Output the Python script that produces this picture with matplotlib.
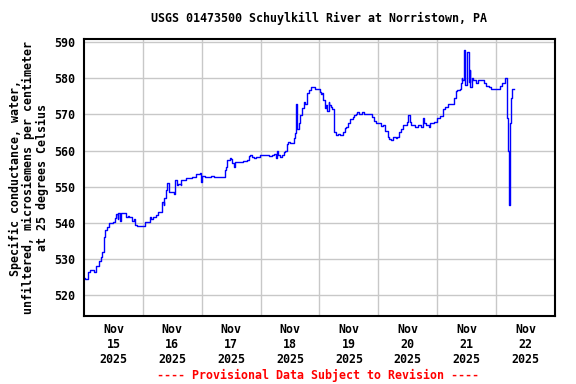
import matplotlib
matplotlib.use("Agg")
import matplotlib.pyplot as plt
import matplotlib.dates as mdates
from datetime import datetime, timedelta

# === DATA (hours after 2025-11-15 00:00, microsiemens/cm) ===
jam = [0, 0.5, 1.5, 2.25, 3, 4.25, 5, 6, 6.75, 7.5, 8, 8.25, 8.75, 9.25, 10, 11.25,
       12, 12.75, 13.25, 13.75, 14, 14.5, 15.25, 16, 17, 17.75, 18.5, 19.5, 20.25, 21,
       21.75, 23.5, 24.25, 25, 26, 26.75, 27.5, 28.25, 29.25, 30, 30.75, 31.75, 32,
       32.5, 32.75, 33.25, 33.75, 34, 34.5, 34.75, 35.75, 36.5, 37.25, 37.75, 38.5,
       39.5, 39.75, 40.75, 41.75, 43, 44, 44.75, 45.5, 46.5, 47.25, 47.5, 48, 49.25,
       50.5, 51.75, 53, 54.25, 55.25, 56.5, 57.5, 57.75, 58.5, 59.5, 59.75, 60.5, 61,
       61.75, 62.75, 64, 64.75, 65.5, 66.5, 67.25, 67.5, 68.5, 69.25, 70, 71, 71.75,
       73, 74, 75.5, 76.5, 77.5, 78.25, 78.75, 79, 80, 80.75, 81.5, 82, 82.75, 83.25,
       84, 84.75, 85.5, 86, 86.5, 86.75, 87, 87.75, 88.25, 89, 89.5, 90, 91, 91.75,
       92.5, 93.25, 94.25, 95.5, 96.25, 96.75, 97, 97.5, 98.25, 98.75, 99.25, 99.75,
       100, 100.5, 101.25, 101.75, 102, 102.75, 103.5, 104.25, 105, 105.75, 106.25,
       107, 107.75, 108.5, 109.5, 110.25, 110.75, 111.25, 112, 113.25, 113.5, 114.25,
       116, 117.5, 118.25, 119, 120.25, 121, 121.75, 122.75, 123.75, 124.5, 125.25,
       126, 127, 127.75, 128.5, 129.25, 130.25, 131, 131.75, 132.25, 132.75, 133.5,
       134.25, 135, 136, 136.75, 137.5, 138, 138.25, 138.75, 139.5, 140.5, 141.25,
       142, 142.75, 143.75, 144.5, 145.25, 146.25, 146.5, 147.25, 148.25, 149.5,
       150.25, 150.75, 151.5, 152.25, 153.25, 153.5, 154, 154.25, 154.75, 155.25,
       155.5, 156, 156.25, 156.75, 157.25, 157.5, 158, 158.75, 159.5, 160, 160.75,
       161.75, 162.5, 163.25, 164, 165, 165.75, 167, 168.25, 169, 169.75, 170.5,
       171.5, 171.75, 172.25, 172.5, 172.75, 173.25, 173.5, 173.75, 174.25, 174.5,
       175.25]
nilai = [524.8, 524.6, 526.5, 527, 527, 526.5, 528, 529.5, 530.5, 532, 534, 536, 538,
         539, 540, 540, 540.3, 541.5, 542.5, 541, 542.7, 540.5, 542.8, 542.8, 541.7,
         542, 541.7, 540.5, 541, 539.4, 539.1, 539.1, 539.1, 540.3, 540.3, 541.7,
         541.2, 541.7, 542.2, 543, 543, 544.5, 545.8, 545, 547, 549, 550, 551, 549.5,
         548.5, 548.5, 548, 551.8, 550.5, 550.8, 550.5, 552, 552, 552.3, 552.4, 552.8,
         552.8, 553.5, 553.5, 553.7, 551.3, 553, 552.8, 552.6, 553, 552.6, 552.8,
         552.8, 552.8, 554.6, 555.5, 557.4, 558, 557.8, 556.6, 555.5, 556.8, 556.8,
         556.8, 557, 557, 557.5, 558.5, 558.8, 558.3, 558, 558.3, 558.3, 558.8, 558.8,
         558.8, 558.5, 558.8, 559, 558, 560, 558.8, 558.3, 558.8, 559.5, 560, 561.8,
         562.3, 562, 562, 563.5, 564.8, 572.8, 567, 566, 567.5, 569.8, 571.8, 573.5,
         573, 576, 576.7, 577.6, 577.6, 576.9, 576.9, 576.2, 575.5, 576, 574, 571.8,
         572.5, 571, 573.5, 572.5, 572.1, 571.5, 569.8, 565.2, 564.3, 564.6, 564.3,
         564.3, 565, 566.2, 566.5, 567.5, 568.8, 569.2, 569.8, 570, 570.7, 570, 570,
         570.7, 570, 570, 569.3, 568.3, 567.5, 567.5, 566.8, 567, 565.5, 563.8, 563.2,
         562.8, 563.8, 563.5, 563.8, 565, 566, 567, 567, 568, 569.8, 568, 567, 567,
         566.5, 567, 567, 566.5, 567.5, 569, 567.5, 567, 566.5, 567.5, 567.5, 568,
         569, 569, 569.5, 569.8, 571.5, 572, 572.9, 572.9, 572.9, 574.4, 576.5, 576.7,
         577, 578.6, 580, 579.5, 587.8, 579.5, 578, 582.3, 587.3, 579, 582.3, 577.7,
         580, 579.5, 579.5, 578.6, 579.5, 579.5, 579.5, 578.6, 577.8, 577.6, 576.9,
         576.9, 576.9, 577, 577.8, 578.6, 579, 580, 575, 569, 560, 545, 567.5, 567.5,
         574.4, 576.9, 576.9]
y_ticks = [520, 530, 540, 550, 560, 570, 580, 590]

awal = datetime(2025, 11, 15)
waktu = [awal + timedelta(hours=h) for h in jam]
hari = [awal + timedelta(days=d) for d in range(9)]
siang = [awal + timedelta(days=d, hours=12) for d in range(8)]
label_x = [f"Nov\n{d.day}\n{d.year}" for d in siang]

# === PLOT ===
huruf = {'family': 'DejaVu Sans Mono', 'weight': 'bold', 'size': 8.4}

fig = plt.figure(figsize=(5.76, 3.84), dpi=100)
ax = fig.add_axes([0.1458, 0.177, 0.8177, 0.7207])
ax.plot(waktu, nilai, color='#0000ff', linewidth=1.0, drawstyle='steps-post')

ax.set_xlim(hari[0], hari[-1])
ax.set_ylim(514.3, 590.75)
ax.set_xticks(hari[1:-1])
ax.set_xticklabels([])
ax.set_xticks(siang, minor=True)
ax.set_xticklabels(label_x, minor=True, fontdict=huruf)
ax.set_yticks(y_ticks)
ax.set_yticklabels([str(v) for v in y_ticks], fontdict=huruf)
ax.tick_params(axis='both', which='both', length=0)
ax.tick_params(axis='x', which='minor', pad=5)
ax.tick_params(axis='y', pad=6)
ax.grid(True, which='major', color='#c8c8c8', linewidth=1.0)
ax.set_axisbelow(True)
for s in ax.spines.values():
    s.set_linewidth(1.5)

ax.set_ylabel('Specific conductance, water,\nunfiltered, microsiemens per centimeter\nat 25 degrees Celsius',
              fontdict=huruf, labelpad=4, linespacing=1.05)
fig.text(0.554, 0.951, 'USGS 01473500 Schuylkill River at Norristown, PA',
         ha='center', va='center', **huruf)
fig.text(0.552, 0.023, '---- Provisional Data Subject to Revision ----',
         ha='center', va='center', color='red', **huruf)

fig.savefig('out.png', dpi=100)
